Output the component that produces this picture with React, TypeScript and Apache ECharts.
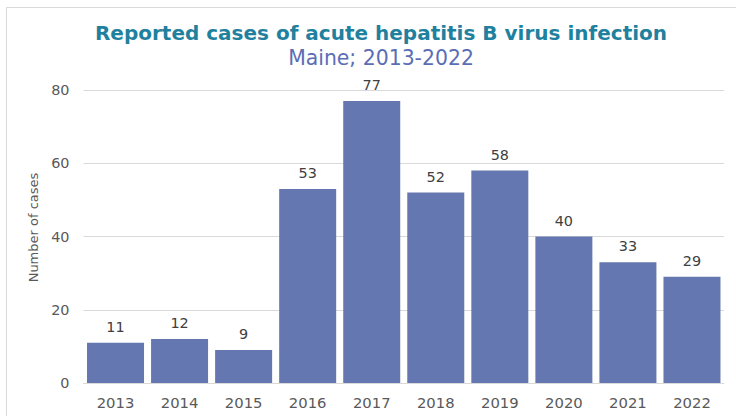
import React, { useEffect, useRef } from "react";
import * as echarts from "echarts";

const years = ["2013", "2014", "2015", "2016", "2017", "2018", "2019", "2020", "2021", "2022"];
const cases = [11, 12, 9, 53, 77, 52, 58, 40, 33, 29];
const titleText = "Reported cases of acute hepatitis B virus infection";
const subtitleText = "Maine; 2013-2022";
const yAxisName = "Number of cases";

const FONT = "DejaVu Sans";

export default function App() {
  const ref = useRef<HTMLDivElement>(null);
  useEffect(() => {
    const chart = echarts.init(ref.current!, null, { renderer: "svg" });
    chart.setOption({
      animation: false,
      backgroundColor: "#ffffff",
      graphic: [
        {
          type: "rect",
          shape: { x: 6.5, y: 7.5, width: 740, height: 420 },
          style: { fill: "none", stroke: "#D9D9D9", lineWidth: 1 },
          silent: true,
        },
      ],
      title: [
        {
          text: titleText,
          left: 376,
          top: 18,
          textAlign: "center",
          textStyle: { fontFamily: FONT, fontSize: 20, fontWeight: "bold", color: "#1F819E" },
        },
        {
          text: subtitleText,
          left: 376,
          top: 43,
          textAlign: "center",
          textStyle: { fontFamily: FONT, fontSize: 20.4, fontWeight: "normal", color: "#5B6DB5" },
        },
      ],
      grid: { left: 83.5, right: 12, top: 90, bottom: 33, containLabel: false },
      xAxis: {
        type: "category",
        data: years,
        axisTick: { show: false },
        axisLine: { lineStyle: { color: "#D9D9D9", width: 1 } },
        axisLabel: { fontFamily: FONT, fontSize: 14.8, color: "#595959", margin: 12 },
      },
      yAxis: {
        type: "value",
        min: 0,
        max: 80,
        interval: 20,
        name: yAxisName,
        nameLocation: "middle",
        nameGap: 43,
        nameTextStyle: { fontFamily: FONT, fontSize: 13, color: "#595959", padding: [0, 0, 0, 18] },
        axisLine: { show: false },
        axisTick: { show: false },
        splitLine: { lineStyle: { color: "#D9D9D9", width: 1 } },
        axisLabel: { fontFamily: FONT, fontSize: 14.4, color: "#595959", margin: 14 },
      },
      series: [
        {
          type: "bar",
          data: cases,
          barCategoryGap: "11%",
          itemStyle: { color: "#6477B0" },
          label: {
            show: true,
            position: "top",
            distance: 9,
            fontFamily: FONT,
            fontSize: 14.4,
            color: "#404040",
          },
        },
      ],
    });
    return () => chart.dispose();
  }, []);
  return (
    <div
      ref={ref}
      style={{ position: "fixed", left: 0, top: 0, width: 736, height: 416 }}
    />
  );
}
